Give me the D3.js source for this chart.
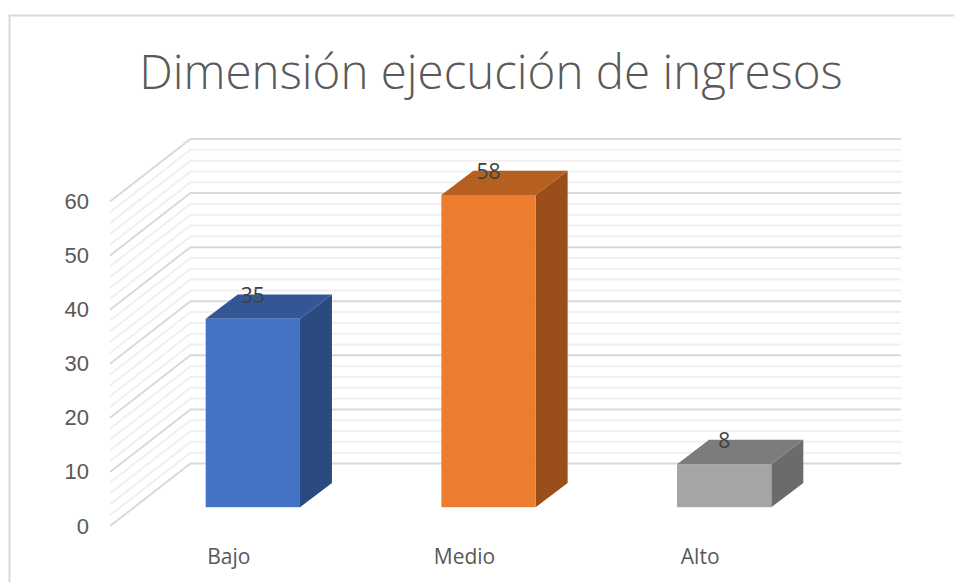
<!DOCTYPE html>
<html>
  <head>
    <meta charset="utf-8">
    <title>Dimensión ejecución de ingresos</title>
    <style type="text/css">
     html, body {
       margin: 0;
       background: #fff;
     }
     svg {
       display: block;
       font-family: "Open Sans", sans-serif;
     }
     .tick text {
       fill: #595959;
       font-size: 22px;
     }
     .category {
       fill: #595959;
       font-size: 21px;
     }
     .title {
       fill: #595959;
       font-size: 47.5px;
       font-weight: 300;
     }
     .value {
       fill: #404040;
       font-size: 21px;
     }
    </style>
  </head>
  <body>
    <svg width="954" height="582"></svg>
    <script src="https://cdn.jsdelivr.net/npm/d3@7"></script>
    <script>
     const title = "Dimensión ejecución de ingresos";
     const categories = ["Bajo", "Medio", "Alto"];
     const values = [35, 58, 8];
     const yTicks = [0, 10, 20, 30, 40, 50, 60];
     const minorTicks = d3.range(0, 61, 2);

     // front face, side and top of each bar
     const faceColors = ["#4472c4", "#ed7d2e", "#a5a5a5"];
     const sideColors = ["#2a4a80", "#9a4f1a", "#6b6b6b"];
     const topColors = ["#335697", "#b55f21", "#7c7c7c"];

     const svg = d3.select("svg");

     // offset from the floor's front edge to the back wall
     const wallDx = 80.5, wallDy = -62.5;
     // offset from a bar's front face to its back face
     const barDx = 32, barDy = -24.3;

     const yWall = d3.scaleLinear().domain([0, 60]).range([526, 201.5]);
     const yBar = d3.scaleLinear().domain([0, 60]).range([507.2, 184.2]);
     const x = d3.scaleBand()
                 .domain(categories)
                 .range([135, 842])
                 .paddingInner(0.6)
                 .paddingOuter(0.3);

     // chart frame, open at the right and the bottom
     svg.append("path")
        .attr("d", "M9.5 582V15.5H954")
        .attr("fill", "none")
        .attr("stroke", "#d9d9d9")
        .attr("stroke-width", 2);

     svg.append("text")
        .attr("class", "title")
        .attr("x", 491)
        .attr("y", 89)
        .attr("text-anchor", "middle")
        .text(title);

     // gridlines run along the side wall then across the back wall
     svg.append("g")
        .selectAll("path")
        .data(minorTicks)
        .enter()
        .append("path")
        .attr("d", (d) => {
          const y0 = yWall(d);
          return `M110 ${y0}L${110 + wallDx} ${y0 + wallDy}H901`;
        })
        .attr("fill", "none")
        .attr("stroke", (d) => d % 10 === 0 ? "#d9d9d9" : "#f0f0f0")
        .attr("stroke-width", 2);

     const axis = d3.axisLeft(yWall)
                    .tickValues(yTicks)
                    .tickSize(0)
                    .tickPadding(21);
     svg.append("g")
        .attr("transform", "translate(110,0)")
        .call(axis)
        .call((g) => g.select(".domain").remove())
        .call((g) => g.selectAll("text").style("font-family", "inherit"));

     const bars = svg.append("g")
                     .selectAll("g")
                     .data(categories)
                     .enter()
                     .append("g");

     // side face
     bars.append("path")
         .attr("fill", (d, i) => sideColors[i])
         .attr("d", (d, i) => {
           const xr = x(d) + x.bandwidth();
           const y0 = yBar(0), y1 = yBar(values[i]);
           return `M${xr} ${y0}L${xr + barDx} ${y0 + barDy}V${y1 + barDy}L${xr} ${y1}Z`;
         });

     // top face
     bars.append("path")
         .attr("fill", (d, i) => topColors[i])
         .attr("d", (d, i) => {
           const xl = x(d), xr = xl + x.bandwidth();
           const y1 = yBar(values[i]);
           return `M${xl} ${y1}L${xl + barDx} ${y1 + barDy}H${xr + barDx}L${xr} ${y1}Z`;
         });

     // front face
     bars.append("rect")
         .attr("x", (d) => x(d))
         .attr("y", (d, i) => yBar(values[i]))
         .attr("width", x.bandwidth())
         .attr("height", (d, i) => yBar(0) - yBar(values[i]))
         .attr("fill", (d, i) => faceColors[i]);

     bars.append("text")
         .attr("class", "value")
         .attr("x", (d) => x(d) + x.bandwidth() / 2)
         .attr("y", (d, i) => yBar(values[i]) - 16)
         .attr("text-anchor", "middle")
         .text((d, i) => values[i]);

     // category labels sit left of their bars in the reference
     bars.append("text")
         .attr("class", "category")
         .attr("x", (d) => x(d) + x.bandwidth() / 2 - 24)
         .attr("y", 564)
         .attr("text-anchor", "middle")
         .text((d) => d);
    </script>
  </body>
</html>
